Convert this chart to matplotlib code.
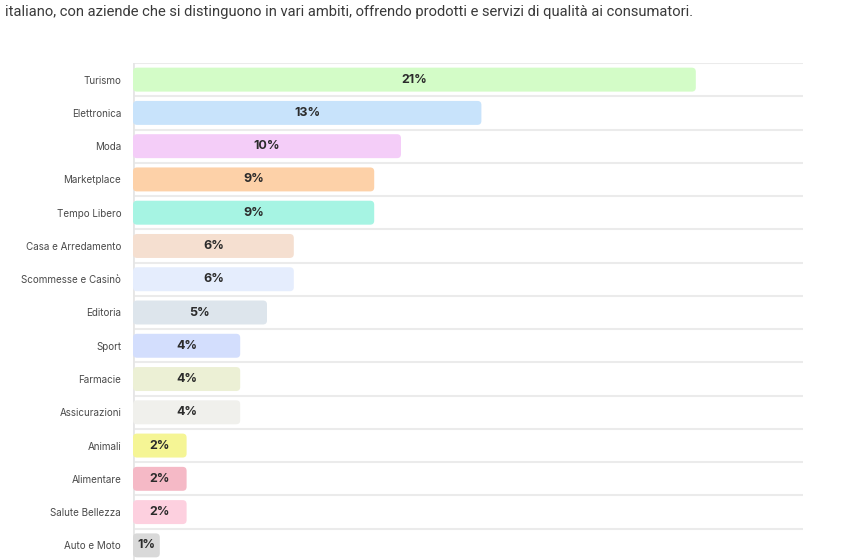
import matplotlib
matplotlib.use("Agg")
import matplotlib.pyplot as plt
from matplotlib.patches import FancyBboxPatch

categories = ["Turismo", "Elettronica", "Moda", "Marketplace", "Tempo Libero",
              "Casa e Arredamento", "Scommesse e Casinò", "Editoria", "Sport",
              "Farmacie", "Assicurazioni", "Animali", "Alimentare",
              "Salute Bellezza", "Auto e Moto"]
values = [21, 13, 10, 9, 9, 6, 6, 5, 4, 4, 4, 2, 2, 2, 1]
colors = ["#d3fcc7", "#c8e3fb", "#f4cdf8", "#fdd1a8", "#a6f4e3",
          "#f5dfd0", "#e5edfd", "#dde5ec", "#d3defd", "#ecf0d5",
          "#f0f0ec", "#f5f595", "#f5b9c6", "#fdd0df", "#d9d9d9"]
intro = ("italiano, con aziende che si distinguono in vari ambiti, offrendo "
         "prodotti e servizi di qualità ai consumatori.")

plt.rcParams['font.family'] = ['Inter', 'DejaVu Sans']

fig = plt.figure(figsize=(8.5, 5.6), dpi=100)
fig.text(5 / 850, 1 - 12 / 560, intro, fontsize=10.6, color="#3a3a3a",
         ha="left", va="center", family=["Roboto", "DejaVu Sans"])

ax = fig.add_axes([133 / 850, -2 / 560, 670 / 850, 499 / 560])
n = len(categories)
ypos = list(range(n))
bars = ax.barh(ypos, values, height=0.72, color=colors)
ax.set_xlim(0, 25)
ax.set_ylim(n - 0.5, -0.5)

# replace plain bars with rounded ones built from the bar geometry
x_per_px = 25 / 670
y_per_px = 1 / (499 / 15)
for b in bars:
    b.set_visible(False)
    r = 4 * x_per_px
    p = FancyBboxPatch((b.get_x(), b.get_y()), b.get_width(), b.get_height(),
                       boxstyle=f"round,pad=0,rounding_size={r}",
                       mutation_aspect=y_per_px / x_per_px,
                       facecolor=b.get_facecolor(), edgecolor="none", zorder=2)
    ax.add_patch(p)
    ax.text(b.get_x() + b.get_width() / 2, b.get_y() + b.get_height() / 2,
            f"{int(b.get_width())}%", ha="center", va="center",
            fontsize=9, fontweight="bold", color="#2b2b2b", zorder=3)

for k in range(n + 1):
    ax.axhline(k - 0.5, color="#ebebeb", lw=1.5, zorder=1)
ax.axvline(0, color="#e6e6e6", lw=2, zorder=1)

for s in ax.spines.values():
    s.set_visible(False)
ax.set_xticks([])
ax.set_yticks(ypos)
ax.set_yticklabels(categories, fontsize=7.1, color="#4a4a4a")
ax.tick_params(axis="y", length=0, pad=8.5)
for t in ax.get_yticklabels():
    t.set_va("center_baseline")

fig.savefig("out.png", dpi=100)
